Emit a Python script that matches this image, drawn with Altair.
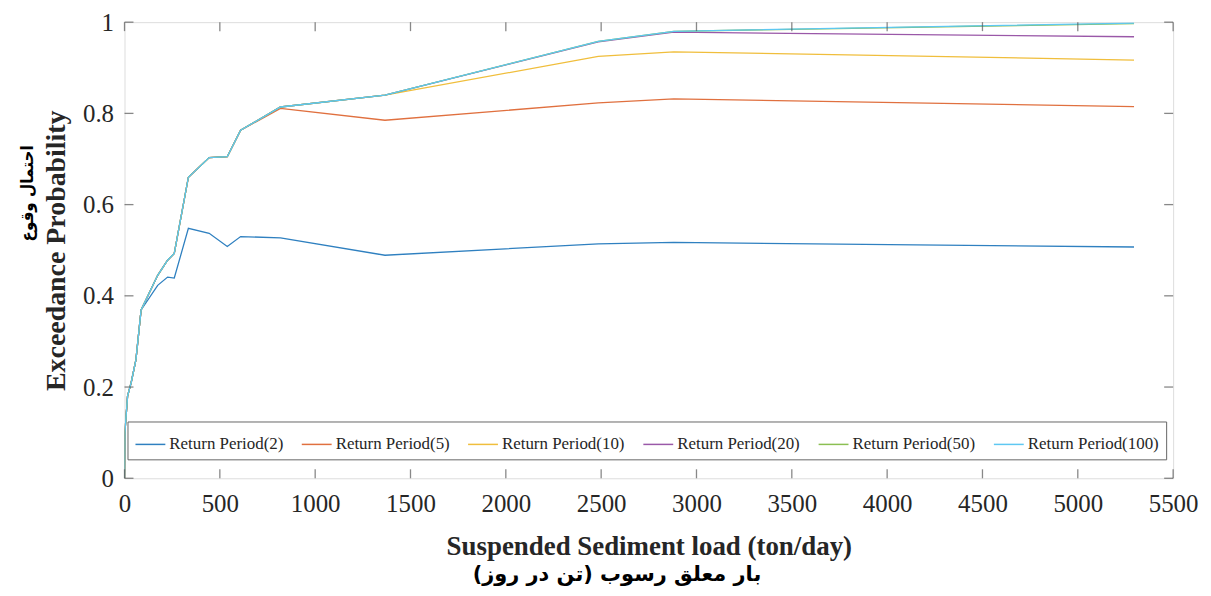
import altair as alt
import pandas as pd

# ---- data ----
load_x = [0, 2, 16, 35, 60, 87, 174, 226, 261, 335, 444, 539, 609, 818, 1366, 2485, 2881, 5295]

rp2   = [0, 0.10, 0.18, 0.21, 0.26, 0.369, 0.423, 0.441, 0.439, 0.548, 0.537, 0.508, 0.530, 0.527, 0.489, 0.514, 0.517, 0.507]
rp5   = [0, 0.10, 0.18, 0.21, 0.26, 0.369, 0.445, 0.478, 0.493, 0.660, 0.703, 0.705, 0.763, 0.811, 0.785, 0.823, 0.832, 0.815]
rp10  = [0, 0.10, 0.18, 0.21, 0.26, 0.369, 0.445, 0.478, 0.493, 0.660, 0.703, 0.705, 0.763, 0.814, 0.840, 0.925, 0.935, 0.917]
rp20  = [0, 0.10, 0.18, 0.21, 0.26, 0.369, 0.445, 0.478, 0.493, 0.660, 0.703, 0.705, 0.763, 0.814, 0.840, 0.957, 0.978, 0.968]
rp50  = [0, 0.10, 0.18, 0.21, 0.26, 0.369, 0.445, 0.478, 0.493, 0.660, 0.703, 0.705, 0.763, 0.814, 0.840, 0.958, 0.980, 0.997]
rp100 = [0, 0.10, 0.18, 0.21, 0.26, 0.369, 0.445, 0.478, 0.493, 0.660, 0.703, 0.705, 0.763, 0.814, 0.840, 0.958, 0.980, 0.998]

series_names = ["Return Period(2)", "Return Period(5)", "Return Period(10)",
                "Return Period(20)", "Return Period(50)", "Return Period(100)"]
series_values = [rp2, rp5, rp10, rp20, rp50, rp100]
series_colors = ["#2F80C0", "#E0703F", "#F0BE3C", "#9A58A8", "#8BBF52", "#5EC8F2"]

x_ticks = [0, 500, 1000, 1500, 2000, 2500, 3000, 3500, 4000, 4500, 5000, 5500]
y_ticks = [0, 0.2, 0.4, 0.6, 0.8, 1.0]

x_title = "Suspended Sediment load (ton/day)"
x_title_fa = "بار معلق رسوب (تن در روز)"
y_title = "Exceedance Probability"
y_title_fa = "احتمال وقوع"

W, H = 1053, 458

rows = []
for k, (name, vals) in enumerate(zip(series_names, series_values)):
    for i, (xv, yv) in enumerate(zip(load_x, vals)):
        rows.append({"load": xv, "prob": yv, "series": name, "k": k, "i": i})
df = pd.DataFrame(rows)

serif = "Liberation Serif"
xscale = alt.Scale(domain=[0, 5500], nice=False, zero=False)
yscale = alt.Scale(domain=[0, 1], nice=False)

lines = alt.Chart(df).mark_line(strokeWidth=1.3, clip=True).encode(
    x=alt.X("load:Q", scale=xscale,
            axis=alt.Axis(values=x_ticks, title=x_title, format="d", grid=False,
                          ticks=False, domain=False, labelPadding=13,
                          labelFlush=False,
                          labelFont=serif, labelFontSize=25, labelColor="#262626",
                          titleFont=serif, titleFontSize=27, titleFontWeight="bold",
                          titleColor="#262626", titlePadding=18)),
    y=alt.Y("prob:Q", scale=yscale,
            axis=alt.Axis(values=y_ticks, title=y_title, grid=False,
                          ticks=False, domain=False, labelPadding=11,
                          labelFlush=False,
                          labelExpr="datum.value == 0 || datum.value == 1 ? format(datum.value, 'd') : format(datum.value, '.1f')",
                          labelFont=serif, labelFontSize=25, labelColor="#262626",
                          titleFont=serif, titleFontSize=28, titleFontWeight="bold",
                          titleColor="#262626", titlePadding=12)),
    color=alt.Color("series:N",
                    scale=alt.Scale(domain=series_names, range=series_colors),
                    sort=series_names,
                    legend=alt.Legend(title=None, orient="none", direction="horizontal",
                                      legendX=3, legendY=401,
                                      symbolType="stroke", symbolSize=900,
                                      symbolStrokeWidth=1.5,
                                      labelFont=serif, labelFontSize=17,
                                      labelColor="#262626", columnPadding=15,
                                      labelOffset=3,
                                      padding=7, strokeColor="#666666",
                                      fillColor="white")),
    order=alt.Order("i:Q"),
    detail="series:N",
)

# inward ticks (MATLAB style box)
xt = pd.DataFrame({"v": x_ticks})
yt = pd.DataFrame({"v": y_ticks})
tick_style = dict(color="#555555", thickness=1.3, size=9)
xt_bottom = alt.Chart(xt).mark_tick(**tick_style).encode(
    x=alt.X("v:Q", scale=xscale), y=alt.value(H - 4.5))
xt_top = alt.Chart(xt).mark_tick(**tick_style).encode(
    x=alt.X("v:Q", scale=xscale), y=alt.value(4.5))
yt_left = alt.Chart(yt).mark_tick(**tick_style).encode(
    y=alt.Y("v:Q", scale=yscale), x=alt.value(4.5))
yt_right = alt.Chart(yt).mark_tick(**tick_style).encode(
    y=alt.Y("v:Q", scale=yscale), x=alt.value(W - 4.5))

fa_x = alt.Chart(pd.DataFrame({"t": [x_title_fa]})).mark_text(
    font="DejaVu Sans", fontSize=21, fontWeight="bold", color="black",
    align="center", baseline="middle", clip=False
).encode(text="t:N", x=alt.value(W / 2 - 32), y=alt.value(555))

fa_y = alt.Chart(pd.DataFrame({"t": [y_title_fa]})).mark_text(
    font="DejaVu Sans Condensed, DejaVu Sans", fontSize=17, fontWeight="bold", color="black",
    align="center", baseline="middle", angle=270, clip=False
).encode(text="t:N", x=alt.value(-97), y=alt.value(172))

chart = alt.layer(lines, xt_bottom, xt_top, yt_left, yt_right, fa_x, fa_y).properties(
    width=W, height=H,
    autosize=alt.AutoSizeParams(type="none"),
    padding={"left": 117, "top": 13, "right": 30, "bottom": 116},
).configure_view(
    stroke="#555555", strokeWidth=1.3
).configure(background="white")

chart.save("out.html", embed_options={"renderer": "svg", "actions": False})
